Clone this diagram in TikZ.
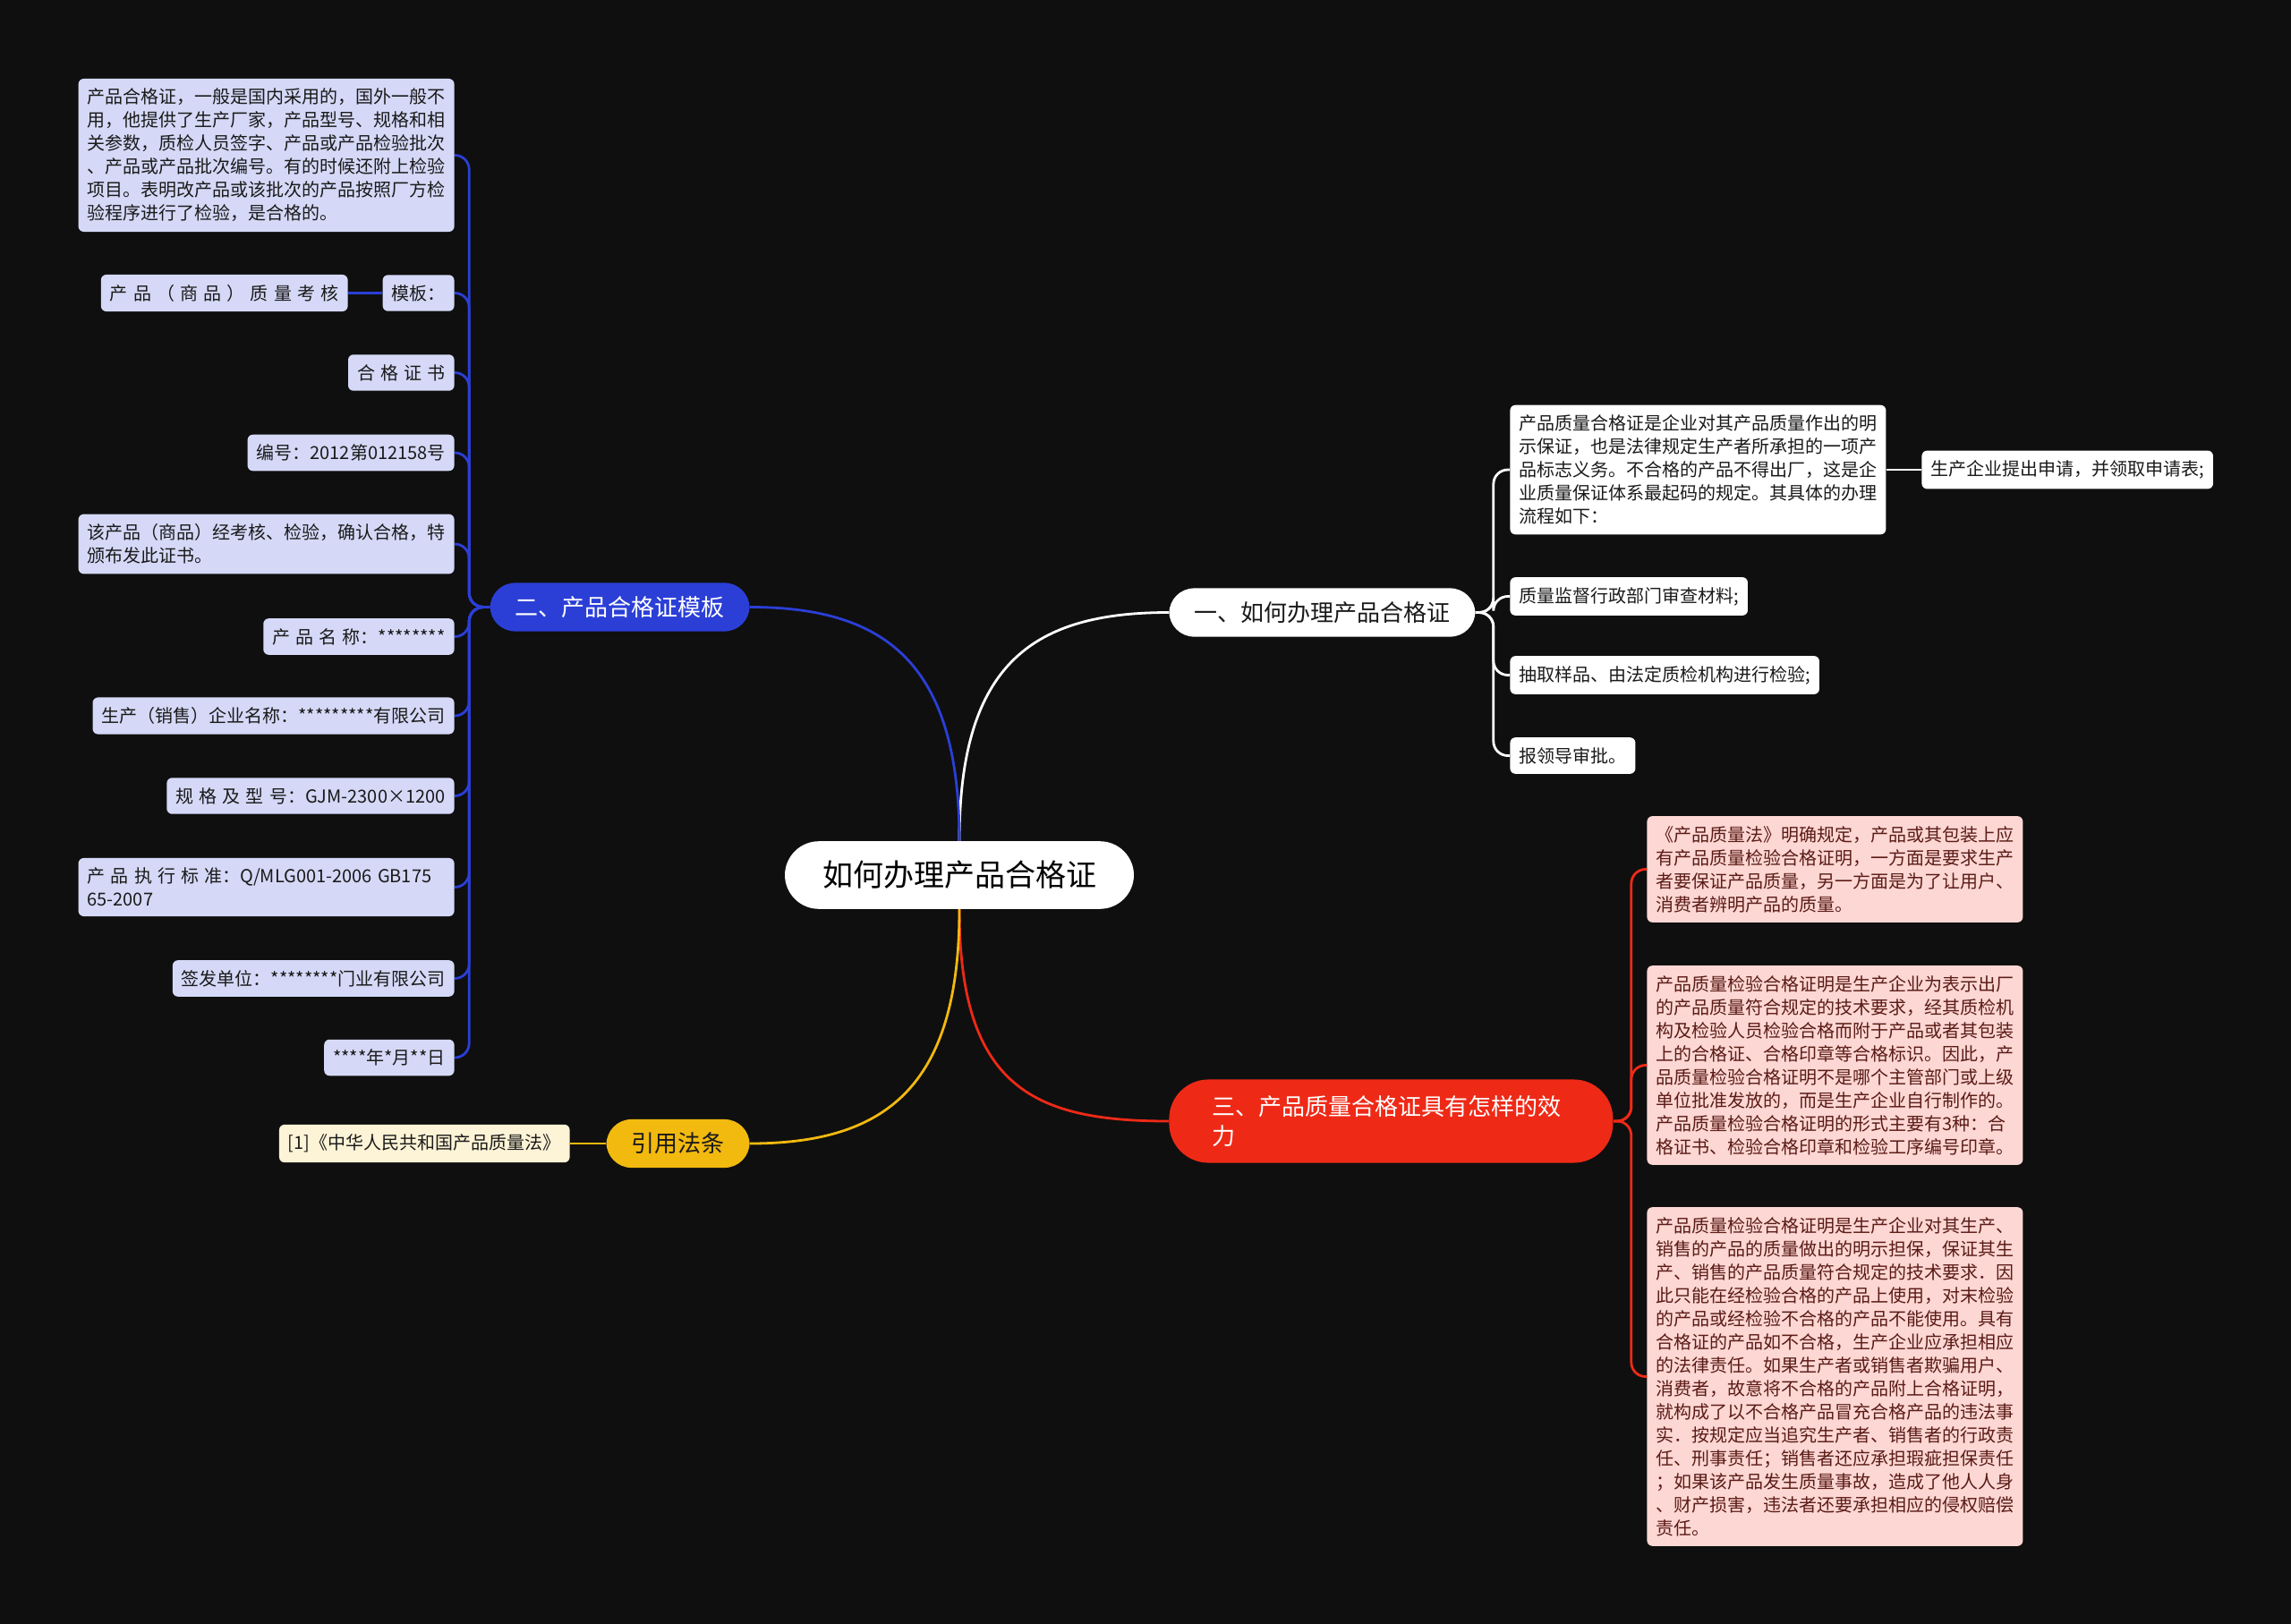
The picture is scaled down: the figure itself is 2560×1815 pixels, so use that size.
\documentclass[tikz,border=0pt]{standalone}
\usepackage{fontspec}
\setmainfont{Noto Sans CJK SC}
\definecolor{bgdark}{HTML}{0F0F0F}
\definecolor{blueline}{HTML}{2B3FD7}
\definecolor{bluepale}{HTML}{D5D9F7}
\definecolor{yellowline}{HTML}{F2B90F}
\definecolor{yellowpale}{HTML}{FDF3D6}
\definecolor{redline}{HTML}{EE2A17}
\definecolor{redpale}{HTML}{FCD7D4}
\definecolor{redtext}{HTML}{5B1B16}
\definecolor{darktext}{HTML}{1A1A1A}

\begin{document}
\begin{tikzpicture}[x=0.5pt,y=-0.5pt,
    every node/.style={font=\fontsize{10}{13}\selectfont,align=left,inner xsep=5pt,inner ysep=5.5pt,rounded corners=3pt,text=darktext},
    root/.style={fill=white,text=black,font=\fontsize{17}{20}\selectfont,rounded corners=19pt,inner xsep=21pt,inner ysep=11pt},
    branch/.style={font=\fontsize{13}{16.5}\selectfont,rounded corners=14pt,inner xsep=14pt,inner ysep=7.5pt},
    leafwhite/.style={fill=white},
    leafblue/.style={fill=bluepale},
    leafyellow/.style={fill=yellowpale},
    leafred/.style={fill=redpale,text=redtext},
    spaced/.style={execute at begin node={\spaceskip=3.1pt\relax}},
    link/.style={line width=1.4pt,rounded corners=8pt}]

        % dark page
        \fill[bgdark] (0,0) rectangle (2560,1815);
        \useasboundingbox (0,0) rectangle (2560,1815);

        \node[root] (root) at (1072,978) {如何办理产品合格证};

        % main branches
        \node[branch,fill=white,anchor=west] (b1) at (1306,684.5) {一、如何办理产品合格证};
        \node[branch,fill=blueline,text=white,anchor=east] (b2) at (838,678.5) {二、产品合格证模板};
        \node[branch,fill=redline,text=white,anchor=west,text width=200pt,inner xsep=24pt,inner ysep=9pt,rounded corners=22pt] (b3) at (1306,1253) {三、产品质量合格证具有怎样的效\\力};
        \node[branch,fill=yellowline,anchor=east] (b4) at (838,1278) {引用法条};

        \draw[link,white] (root.north) .. controls +(0,-200) and +(-150,0) .. (b1.west);
        \draw[link,blueline] (root.north) .. controls +(0,-200) and +(150,0) .. (b2.east);
        \draw[link,redline] (root.south) .. controls +(0,200) and +(-150,0) .. (b3.west);
        \draw[link,yellowline] (root.south) .. controls +(0,200) and +(150,0) .. (b4.east);

        % branch 1
        \node[leafwhite,anchor=west] (a1) at (1687,525) {产品质量合格证是企业对其产品质量作出的明\\示保证，也是法律规定生产者所承担的一项产\\品标志义务。不合格的产品不得出厂，这是企\\业质量保证体系最起码的规定。其具体的办理\\流程如下：};
        \node[leafwhite,anchor=west] (a1x) at (2147,525) {生产企业提出申请，并领取申请表;};
        \node[leafwhite,anchor=west] (a2) at (1687,666.5) {质量监督行政部门审查材料;};
        \node[leafwhite,anchor=west] (a3) at (1687,754.5) {抽取样品、由法定质检机构进行检验;};
        \node[leafwhite,anchor=west] (a4) at (1687,844.5) {报领导审批。};

        \foreach \n in {a1,a2,a3,a4}
            \draw[link,white] (b1.east) -- ++(20,0) |- (\n.west);
        \draw[link,white] (a1.east) -- (a1x.west);

        % branch 2
        \node[leafblue,anchor=east] (c1) at (508,173.5) {产品合格证，一般是国内采用的，国外一般不\\用，他提供了生产厂家，产品型号、规格和相\\关参数，质检人员签字、产品或产品检验批次\\、产品或产品批次编号。有的时候还附上检验\\项目。表明改产品或该批次的产品按照厂方检\\验程序进行了检验，是合格的。};
        \node[leafblue,anchor=east] (c2) at (508,327.5) {模板：};
        \node[leafblue,spaced,anchor=east] (c2x) at (389,327.5) {产 品 （ 商 品 ） 质 量 考 核};
        \node[leafblue,spaced,anchor=east] (c3) at (508,416.5) {合 格 证 书};
        \node[leafblue,anchor=east] (c4) at (508,506) {编号：2012第012158号};
        \node[leafblue,anchor=east] (c5) at (508,608) {该产品（商品）经考核、检验，确认合格，特\\颁布发此证书。};
        \node[leafblue,spaced,anchor=east] (c6) at (508,711.5) {产 品 名 称：********};
        \node[leafblue,anchor=east] (c7) at (508,800) {生产（销售）企业名称：*********有限公司};
        \node[leafblue,spaced,anchor=east] (c8) at (508,889.5) {规 格 及 型 号：GJM-2300×1200};
        \node[leafblue,spaced,anchor=east,text width=200pt] (c9) at (508,991.5) {产 品 执 行 标 准：Q/MLG001-2006 GB175\\65-2007};
        \node[leafblue,anchor=east] (c10) at (508,1093.5) {签发单位：********门业有限公司};
        \node[leafblue,anchor=east] (c11) at (508,1182) {****年*月**日};

        \foreach \n in {c1,c2,c3,c4,c5,c6,c7,c8,c9,c10,c11}
            \draw[link,blueline] (b2.west) -- ++(-23,0) |- (\n.east);
        \draw[link,blueline] (c2.west) -- (c2x.east);

        % branch 3
        \node[leafred,anchor=west] (r1) at (1840,971.5) {《产品质量法》明确规定，产品或其包装上应\\有产品质量检验合格证明，一方面是要求生产\\者要保证产品质量，另一方面是为了让用户、\\消费者辨明产品的质量。};
        \node[leafred,anchor=west] (r2) at (1840,1190.5) {产品质量检验合格证明是生产企业为表示出厂\\的产品质量符合规定的技术要求，经其质检机\\构及检验人员检验合格而附于产品或者其包装\\上的合格证、合格印章等合格标识。因此，产\\品质量检验合格证明不是哪个主管部门或上级\\单位批准发放的，而是生产企业自行制作的。\\产品质量检验合格证明的形式主要有3种：合\\格证书、检验合格印章和检验工序编号印章。};
        \node[leafred,anchor=west] (r3) at (1840,1538.5) {产品质量检验合格证明是生产企业对其生产、\\销售的产品的质量做出的明示担保，保证其生\\产、销售的产品质量符合规定的技术要求．因\\此只能在经检验合格的产品上使用，对末检验\\的产品或经检验不合格的产品不能使用。具有\\合格证的产品如不合格，生产企业应承担相应\\的法律责任。如果生产者或销售者欺骗用户、\\消费者，故意将不合格的产品附上合格证明，\\就构成了以不合格产品冒充合格产品的违法事\\实．按规定应当追究生产者、销售者的行政责\\任、刑事责任；销售者还应承担瑕疵担保责任\\；如果该产品发生质量事故，造成了他人人身\\、财产损害，违法者还要承担相应的侵权赔偿\\责任。};

        \foreach \n in {r1,r2,r3}
            \draw[link,redline] (b3.east) -- ++(20,0) |- (\n.west);

        % branch 4
        \node[leafyellow,anchor=east] (y1) at (637,1278) {[1]《中华人民共和国产品质量法》};
        \draw[link,yellowline] (b4.west) -- (y1.east);

\end{tikzpicture}
\end{document}
